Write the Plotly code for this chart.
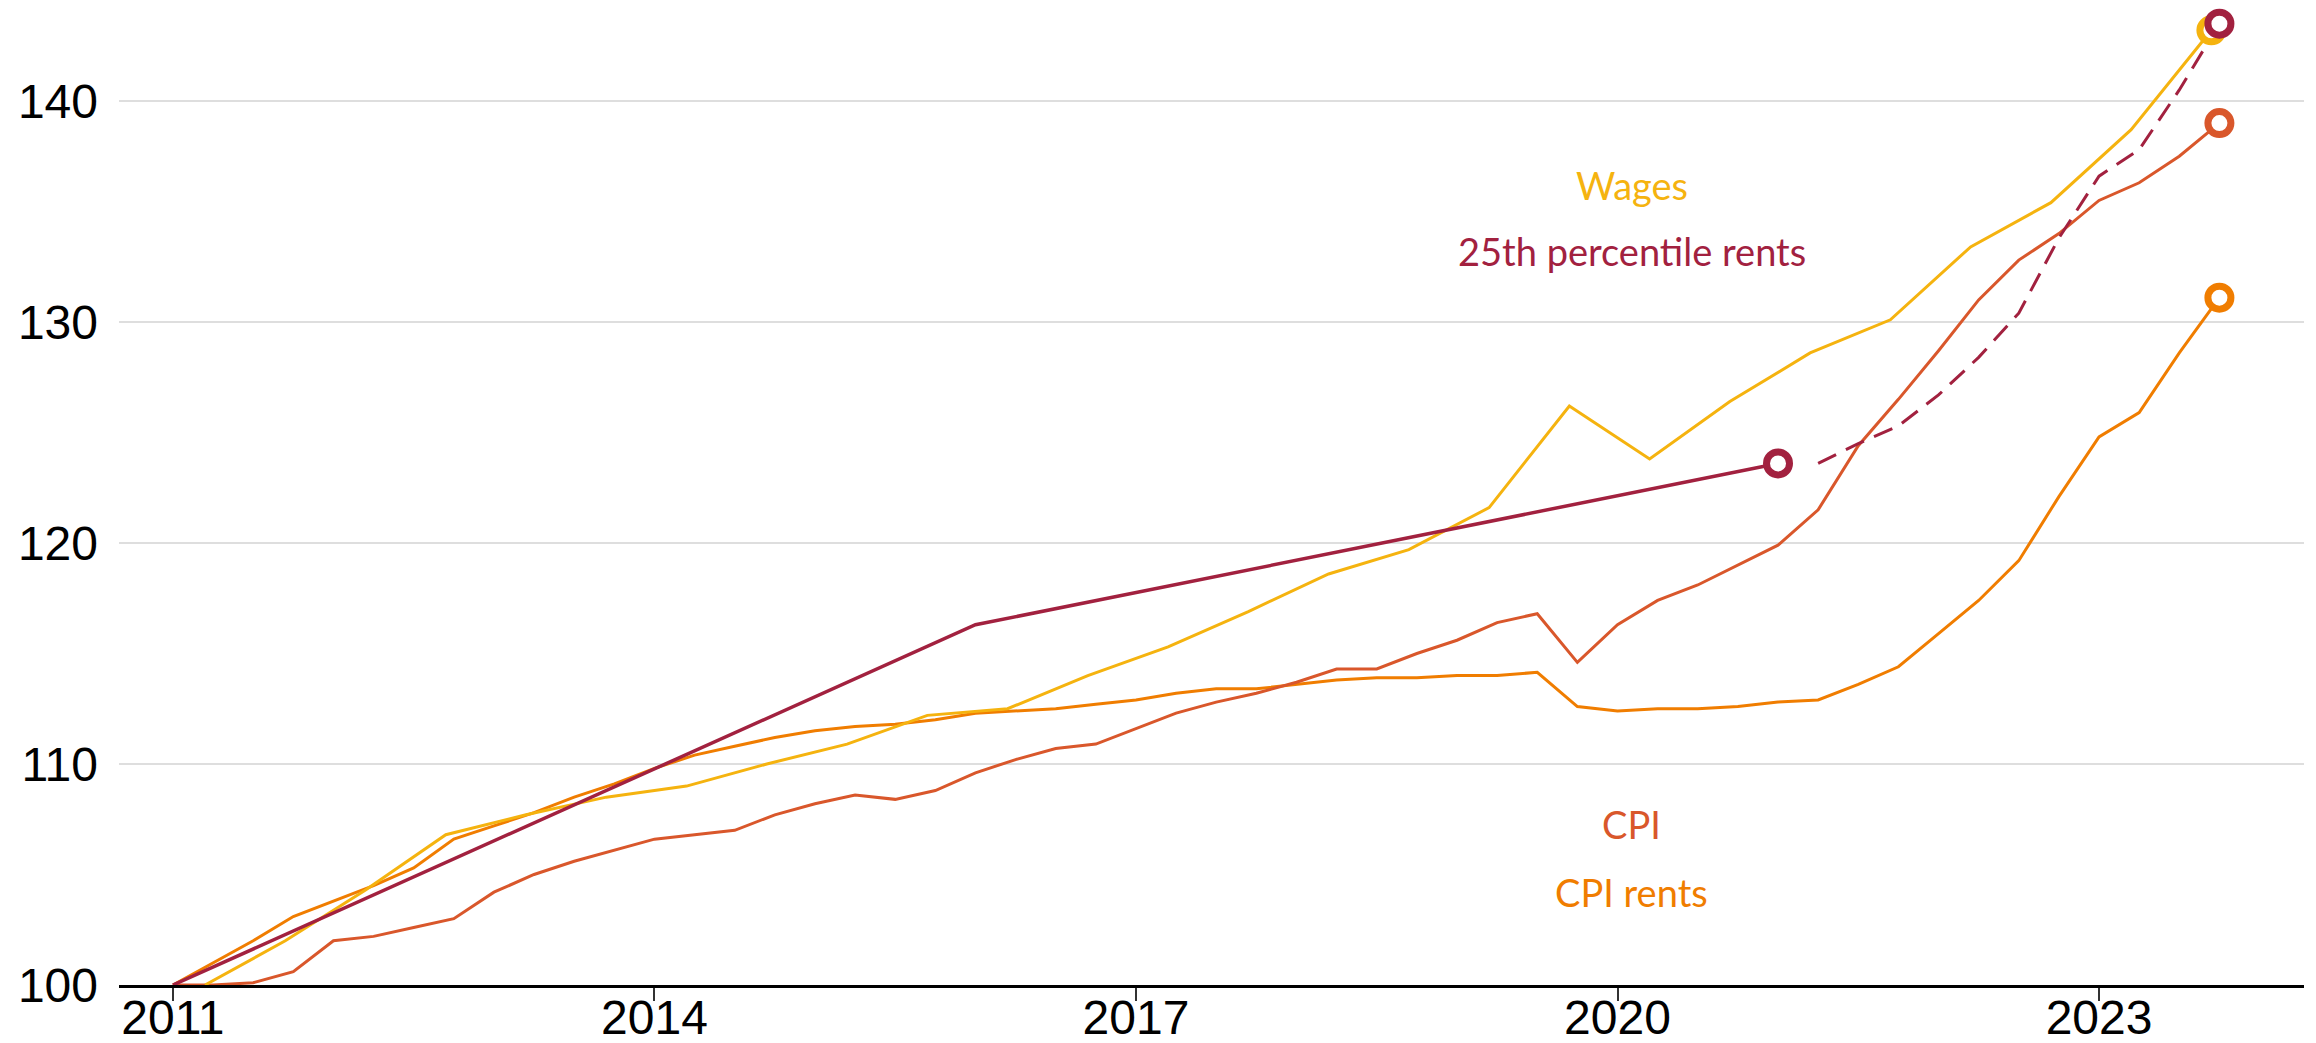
import plotly.graph_objects as go

# quarterly time axis (decimal years), 2011 Q1 .. 2023 Q4
quarters = [2011 + q / 4 for q in range(52)]

cpi = [100.0, 100.0, 100.1, 100.6, 102.0, 102.2, 102.6, 103.0,
       104.2, 105.0, 105.6, 106.1, 106.6, 106.8, 107.0, 107.7,
       108.2, 108.6, 108.4, 108.8, 109.6, 110.2, 110.7, 110.9,
       111.6, 112.3, 112.8, 113.2, 113.7, 114.3, 114.3, 115.0,
       115.6, 116.4, 116.8, 114.6, 116.3, 117.4, 118.1, 119.0,
       119.9, 121.5, 124.4, 126.5, 128.7, 131.0, 132.8, 134.0,
       135.5, 136.3, 137.5, 139.0]

cpi_rents = [100.0, 101.0, 102.0, 103.1, 103.8, 104.5, 105.3, 106.6,
             107.2, 107.8, 108.5, 109.1, 109.8, 110.4, 110.8, 111.2,
             111.5, 111.7, 111.8, 112.0, 112.3, 112.4, 112.5, 112.7,
             112.9, 113.2, 113.4, 113.4, 113.6, 113.8, 113.9, 113.9,
             114.0, 114.0, 114.15, 112.6, 112.4, 112.5, 112.5, 112.6,
             112.8, 112.9, 113.6, 114.4, 115.9, 117.4, 119.2, 122.1,
             124.8, 125.9, 128.6, 131.1]

# wages: half-yearly
wages_x = [2011.2 + h / 2 for h in range(26)]
wages = [100.0, 102.0, 104.3, 106.8, 107.7, 108.5, 109.0, 110.0,
         110.9, 112.2, 112.5, 114.0, 115.3, 116.9, 118.6, 119.7,
         121.6, 126.2, 123.8, 126.4, 128.6, 130.1, 133.4, 135.4,
         138.7, 143.2]

# 25th percentile rents: census points, then quarterly estimate (dashed)
p25_x = [2011, 2016, 2021]
p25 = [100.0, 116.3, 123.6]
p25_est_x = quarters[41:]
p25_est = [123.6, 124.5, 125.3, 126.7, 128.4, 130.4, 133.8, 136.6,
           137.8, 140.5, 143.5]

year_ticks = [2011, 2014, 2017, 2020, 2023]
value_ticks = [100, 110, 120, 130, 140]

c_wages = "#F5B30F"
c_p25 = "#A2213F"
c_cpi = "#D9572B"
c_rents = "#F07D00"

fig = go.Figure()


def add_line(x, y, color, dash="solid", width=3):
    fig.add_trace(go.Scatter(x=x, y=y, mode="lines",
                             line=dict(color=color, width=width, dash=dash)))


def add_end(x, y, color):
    fig.add_trace(go.Scatter(x=[x], y=[y], mode="markers",
                             marker=dict(symbol="circle", size=23, color="white",
                                         line=dict(color=color, width=7))))


add_line(quarters, cpi_rents, c_rents)
add_line(quarters, cpi, c_cpi)
add_line(wages_x, wages, c_wages)
add_line(p25_x, p25, c_p25, width=3.5)
add_line(p25_est_x, p25_est, c_p25, dash="20px,11px")

add_end(quarters[-1], cpi_rents[-1], c_rents)
add_end(quarters[-1], cpi[-1], c_cpi)
add_end(wages_x[-1], wages[-1], c_wages)
add_end(p25_x[-1], p25[-1], c_p25)
add_end(p25_est_x[-1], p25_est[-1], c_p25)

labels = [("Wages", 136.2, c_wages),
          ("25th percentile rents", 133.2, c_p25),
          ("CPI", 107.3, c_cpi),
          ("CPI rents", 104.2, c_rents)]
for text, yv, color in labels:
    fig.add_annotation(x=2020.09, y=yv, text=text, showarrow=False,
                       font=dict(family="Lato, Noto Sans, sans-serif", size=38, color=color))

fig.update_layout(
    width=2316, height=1043,
    margin=dict(l=119, r=12, t=0, b=58),
    paper_bgcolor="white", plot_bgcolor="white",
    showlegend=False,
    font=dict(family="Liberation Sans, Arial, sans-serif", size=48, color="black"),
    xaxis=dict(range=[2010.664, 2024.277], tickvals=year_ticks,
               ticktext=[str(t) for t in year_ticks],
               ticks="outside", ticklen=13, tickwidth=2, tickcolor="#333",
               ticklabelstandoff=-24, automargin=False,
               showgrid=False, zeroline=False,
               showline=True, linecolor="black", linewidth=2.5),
    yaxis=dict(range=[100, 144.57], tickvals=value_ticks, automargin=False,
               showgrid=True, gridcolor="#DEDEDE", gridwidth=2,
               zeroline=False, showline=False, ticks="", ticklabelstandoff=20),
)

# drop the page's default body margin so the figure sits at the window corner
fig.write_html("out.html", config={"displayModeBar": False},
               post_script="document.body.style.margin='0';document.body.style.overflow='hidden';")
